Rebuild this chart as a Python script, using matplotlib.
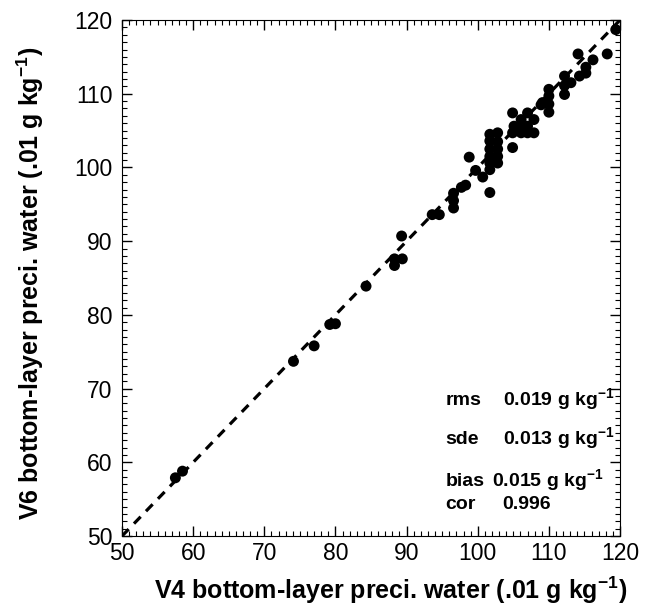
# -*- coding: utf-8 -*-
"""V6 vs V4 bottom-layer precipitable water scatter with 1:1 line and stats."""
import matplotlib
matplotlib.use('Agg')
import matplotlib.pyplot as plt
from matplotlib.ticker import MultipleLocator

plt.rcParams['font.family'] = ['Liberation Sans', 'DejaVu Sans']
plt.rcParams['mathtext.fontset'] = 'custom'
plt.rcParams['mathtext.rm'] = 'Liberation Sans:bold'
plt.rcParams['mathtext.bf'] = 'Liberation Sans:bold'
plt.rcParams['mathtext.it'] = 'Liberation Sans:bold'

# matched samples (.01 g/kg)
v4 = [57.5, 58.5, 74.1, 77.0, 79.2, 80.0, 84.3, 88.3, 88.3, 89.4, 89.3,
      93.6, 94.6, 96.6, 96.6, 96.6, 97.7, 98.3, 98.8, 99.7, 100.7,
      101.7, 101.7, 101.7, 101.7, 101.7, 101.7, 101.7,
      102.8, 102.8, 102.8, 102.8, 102.8,
      104.9, 104.9, 104.9, 105.1, 106.1, 106.1, 106.1,
      107.0, 107.0, 107.0, 107.9, 107.9, 108.9,
      109.1, 110.0, 110.0, 110.0, 110.0,
      112.2, 112.2, 112.2, 113.1, 114.3, 114.1, 115.2, 115.2, 116.2, 118.2, 119.4]
v6 = [57.9, 58.8, 73.7, 75.8, 78.7, 78.8, 83.9, 86.7, 87.6, 87.6, 90.7,
      93.6, 93.6, 94.5, 95.5, 96.5, 97.3, 97.6, 101.4, 99.6, 98.7,
      96.6, 99.7, 100.6, 101.5, 102.5, 103.6, 104.5,
      100.6, 101.5, 102.5, 103.5, 104.7,
      102.7, 104.7, 107.4, 105.6, 104.7, 105.6, 106.5,
      104.7, 105.6, 107.4, 104.7, 106.5, 108.5,
      108.8, 107.5, 108.6, 109.7, 110.6,
      109.9, 111.1, 112.4, 111.5, 112.4, 115.4, 113.6, 112.8, 114.6, 115.4, 118.7]

stat_names = ['rms', 'sde', 'bias', 'cor']
stat_values = [r'0.019 g kg$^{-1}$', r'0.013 g kg$^{-1}$', r'0.015 g kg$^{-1}$', '0.996']

fig = plt.figure(figsize=(6.61, 6.11), dpi=100)
ax = fig.add_axes([0.1846, 0.1227, 0.7534, 0.8445])

ax.plot([50, 120], [50, 120], color='black', lw=2.3, linestyle=(0, (3, 2.4)),
        zorder=2)
ax.scatter(v4, v6, s=62, color='black', edgecolors='none', zorder=3)

ax.set_xlim(50, 120)
ax.set_ylim(50, 120)
for axis in (ax.xaxis, ax.yaxis):
    axis.set_major_locator(MultipleLocator(10))
    axis.set_minor_locator(MultipleLocator(1))
ax.tick_params(which='both', direction='in', top=True, right=True,
               labelsize=16.5)
ax.tick_params(axis='x', pad=4)
ax.tick_params(axis='y', pad=7)
ax.tick_params(which='major', length=7, width=1)
ax.tick_params(which='minor', length=3.5, width=0.8)

ax.set_xlabel(r'V4 bottom-layer preci. water (.01 g kg$^{-1}$)',
              fontsize=18, fontweight='bold')
ax.set_ylabel(r'V6 bottom-layer preci. water (.01 g kg$^{-1}$)',
              fontsize=18, fontweight='bold')
ax.xaxis.set_label_coords(0.54, -0.105, transform=ax.transAxes)
ax.xaxis.label.set_va('center')
ax.yaxis.set_label_coords(-0.185, 0.49, transform=ax.transAxes)
ax.yaxis.label.set_va('center')

# stats block, lower right
name_y = [67.8, 62.5, 56.8, 53.7]
value_x = [103.5, 103.5, 102.0, 103.5]
for name, val, yy, vx in zip(stat_names, stat_values, name_y, value_x):
    ax.text(95.5, yy, name, fontsize=14, fontweight='bold', va='baseline')
    ax.text(vx, yy, val, fontsize=14, fontweight='bold', va='baseline')

fig.savefig('out.png', dpi=100)
